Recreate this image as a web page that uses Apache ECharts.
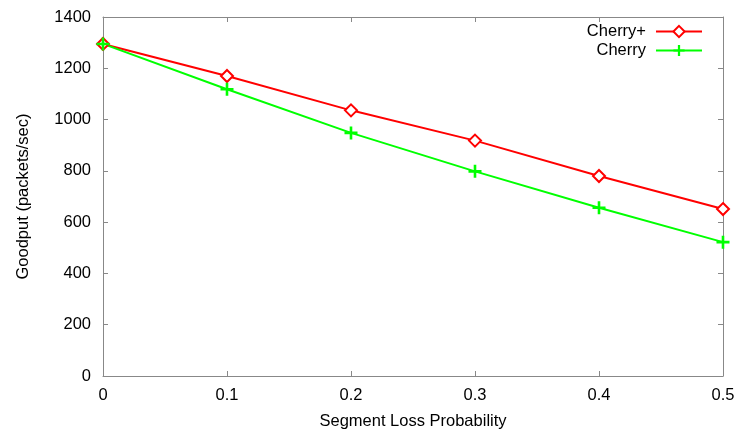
<!DOCTYPE html>
<html>
<head>
<meta charset="utf-8">
<script src="https://cdn.jsdelivr.net/npm/echarts@6/dist/echarts.min.js"></script>
<style>
  html, body { margin: 0; padding: 0; background: #fff; }
  #chart { width: 743px; height: 435px; }
</style>
</head>
<body>
<div id="chart"></div>
<script>
// 数据：段丢失概率 vs. 有效吞吐量
var lossProb = [0, 0.1, 0.2, 0.3, 0.4, 0.5];
var cherryPlus = [1295, 1170, 1036, 918, 780, 651];
var cherry = [1295, 1118, 948, 798, 656, 522];

var FONT = 'Liberation Sans, Arial, sans-serif';
var AXIS_GRAY = '#888888';
var PLUS = 'path://M4,0H6V4H10V6H6V10H4V6H0V4H4Z';

function pairs(xs, ys) {
  return xs.map(function (x, i) { return [x, ys[i]]; });
}

var chart = echarts.init(document.getElementById('chart'));

var baseAxis = {
  axisLine: { show: true, onZero: false, lineStyle: { color: AXIS_GRAY, width: 1 } },
  axisTick: { show: true, inside: true, length: 5, lineStyle: { color: AXIS_GRAY } },
  splitLine: { show: false }
};

chart.setOption({
  animation: false,
  textStyle: { fontFamily: FONT },
  grid: { left: 103, right: 20, top: 17, bottom: 56 },
  legend: {
    orient: 'vertical',
    right: 35,
    top: 18,
    align: 'right',
    itemWidth: 46,
    itemHeight: 14,
    itemGap: 2,
    textStyle: { fontFamily: FONT, fontSize: 16.5, color: '#000', padding: [0, 5, 0, 0] },
    data: ['Cherry+', 'Cherry']
  },
  xAxis: [
    Object.assign({}, baseAxis, {
      type: 'value', min: 0, max: 0.5, interval: 0.1,
      position: 'bottom',
      name: 'Segment Loss Probability',
      nameLocation: 'middle',
      nameGap: 37,
      nameTextStyle: { fontFamily: FONT, fontSize: 16.5, color: '#000' },
      axisLabel: { fontFamily: FONT, fontSize: 16.5, color: '#000', margin: 11 }
    }),
    Object.assign({}, baseAxis, {
      type: 'value', min: 0, max: 0.5, interval: 0.1,
      position: 'top',
      axisLabel: { show: false }
    })
  ],
  yAxis: [
    Object.assign({}, baseAxis, {
      type: 'value', min: 0, max: 1400, interval: 200,
      position: 'left',
      name: 'Goodput (packets/sec)',
      nameLocation: 'middle',
      nameGap: 71,
      nameTextStyle: { fontFamily: FONT, fontSize: 16.5, color: '#000' },
      axisLabel: {
        fontFamily: FONT, fontSize: 16.5, color: '#000', margin: 12,
        formatter: function (v) { return String(v); }
      }
    }),
    Object.assign({}, baseAxis, {
      type: 'value', min: 0, max: 1400, interval: 200,
      position: 'right',
      axisLabel: { show: false }
    })
  ],
  series: [
    {
      name: 'Cherry+',
      type: 'line',
      data: pairs(lossProb, cherryPlus),
      symbol: 'emptyDiamond',
      symbolSize: 12,
      lineStyle: { color: '#ff0000', width: 2 },
      itemStyle: { color: '#ff0000', borderWidth: 2 }
    },
    {
      name: 'Cherry',
      type: 'line',
      data: pairs(lossProb, cherry),
      symbol: PLUS,
      symbolSize: 13,
      lineStyle: { color: '#00ff00', width: 2 },
      itemStyle: { color: '#00ff00' }
    }
  ]
});
</script>
</body>
</html>
